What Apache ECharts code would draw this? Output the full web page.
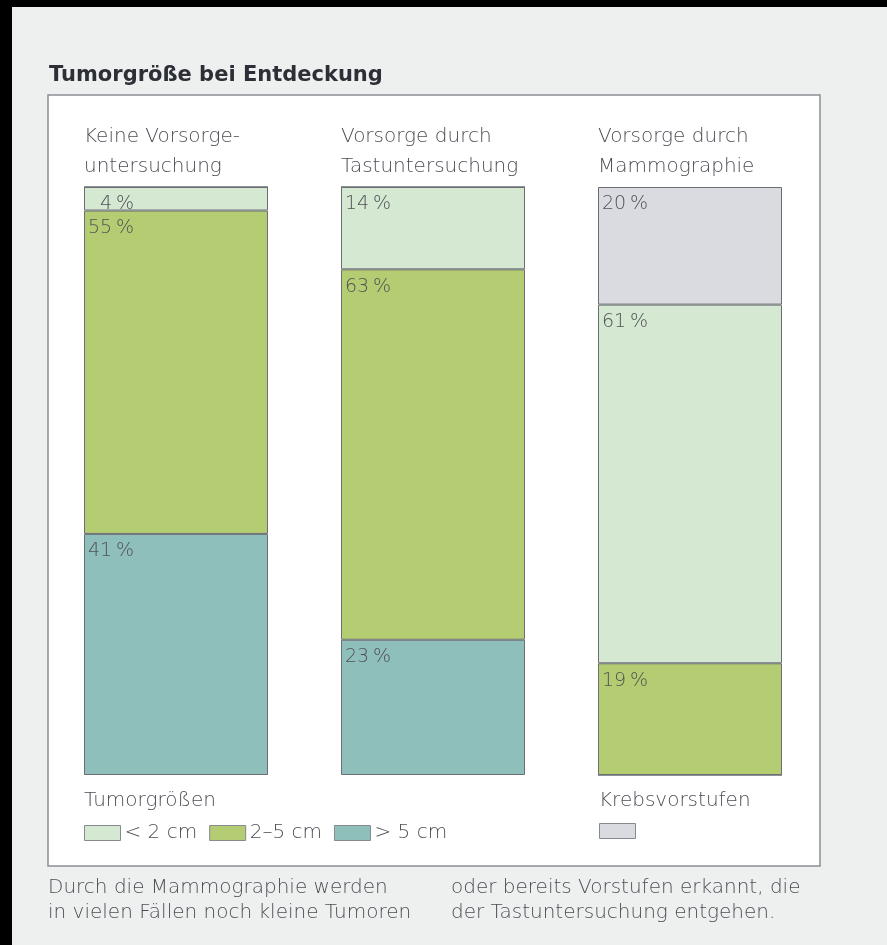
<!DOCTYPE html>
<html><head><meta charset="utf-8">
<script src="https://cdn.jsdelivr.net/npm/echarts@6/dist/echarts.min.js"></script>
<style>html,body{margin:0;padding:0;background:#000;}#c{width:887px;height:945px;}</style>
</head><body><div id="c"></div>
<script>
const categories = ['Keine Vorsorge-\nuntersuchung', 'Vorsorge durch\nTastuntersuchung', 'Vorsorge durch\nMammographie'];
const seriesNames = ['> 5 cm', '2–5 cm', '< 2 cm', 'Krebsvorstufen'];
const over5 = [41, 23, 0];
const mid25 = [55, 63, 19];
const under2 = [4, 14, 61];
const vorstufen = [0, 0, 20];
const legendTumor = ['< 2 cm', '2–5 cm', '> 5 cm'];
const legendVorstufen = ['Krebsvorstufen'];
const colors = ['#8fbfba', '#b4cc72', '#d4e8d2', '#d9dbe0'];
const values = [over5, mid25, under2, vorstufen];

const chart = echarts.init(document.getElementById('c'));
const FONT = '"DejaVu Sans"';
const txt = '#4c4e55';
const series = values.map((v, i) => ({
  name: seriesNames[i], type: 'bar', stack: 'all', barWidth: 184,
  data: v,
  itemStyle: { color: colors[i], borderColor: '#6b6f74', borderWidth: 1 },
  label: {
    show: true, position: [4, 8], align: 'left', verticalAlign: 'top',
    color: '#515257', fontFamily: FONT, fontWeight: 200, fontSize: 19, lineHeight: 19,
    formatter: p => p.value > 0 ? (p.value < 10 ? '\u2007' : '') + p.value + '\u2009%' : ''
  },
  emphasis: { disabled: true }
}));
chart.setOption({
  backgroundColor: '#eef0f0',
  animation: false,
  grid: { left: 47.5, right: 68.5, top: 187, bottom: 170 },
  xAxis: {
    type: 'category', data: categories, position: 'top',
    axisLine: { show: false }, axisTick: { show: false },
    axisLabel: { show: false }
  },
  yAxis: { type: 'value', min: 0, max: 100, show: false },
  legend: [{
    data: legendTumor, left: 84, top: 823, padding: 0, icon: 'rect',
    itemWidth: 36, itemHeight: 15, itemGap: 12, selectedMode: false,
    itemStyle: { borderColor: '#868a8e', borderWidth: 1 },
    textStyle: { fontFamily: FONT, fontWeight: 200, fontSize: 20, lineHeight: 20, color: txt, padding: [0, 0, 0, -1] }
  }, {
    data: legendVorstufen, left: 599, top: 823, padding: 0, icon: 'rect',
    itemWidth: 36, itemHeight: 15, selectedMode: false,
    itemStyle: { borderColor: '#868a8e', borderWidth: 1 },
    formatter: () => '',
    textStyle: { fontSize: 1, lineHeight: 20 }
  }],
  graphic: [
    { type: 'rect', z: -1, shape: { x: 0, y: 0, width: 887, height: 7 }, style: { fill: '#000' } },
    { type: 'rect', z: -1, shape: { x: 0, y: 0, width: 12, height: 945 }, style: { fill: '#000' } },
    { type: 'rect', z: -1, shape: { x: 48, y: 95, width: 772, height: 771 }, style: { fill: '#fff', stroke: '#8a8e94', lineWidth: 1.5 } },
    { type: 'text', x: 49, y: 76, style: { text: 'Tumorgröße bei Entdeckung', font: 'bold 21px "DejaVu Sans"', fill: '#2c2f36', verticalAlign: 'middle' } },
    ...categories.map((c, i) => ({ type: 'text', left: 84 + i * 257, top: 122, style: { text: c, font: '200 20px "DejaVu Sans"', fill: txt, lineHeight: 30 } })),
    { type: 'text', left: 84, top: 791, style: { text: 'Tumorgrößen', font: '200 20px "DejaVu Sans"', fill: txt } },
    { type: 'text', left: 599, top: 791, style: { text: 'Krebsvorstufen', font: '200 20px "DejaVu Sans"', fill: txt } },
    { type: 'text', left: 48, top: 875, style: { text: 'Durch die Mammographie werden\nin vielen Fällen noch kleine Tumoren', font: '200 20px "DejaVu Sans"', fill: txt, lineHeight: 25 } },
    { type: 'text', left: 451, top: 875, style: { text: 'oder bereits Vorstufen erkannt, die\nder Tastuntersuchung entgehen.', font: '200 20px "DejaVu Sans"', fill: txt, lineHeight: 25 } }
  ],
  series
});
</script></body></html>
